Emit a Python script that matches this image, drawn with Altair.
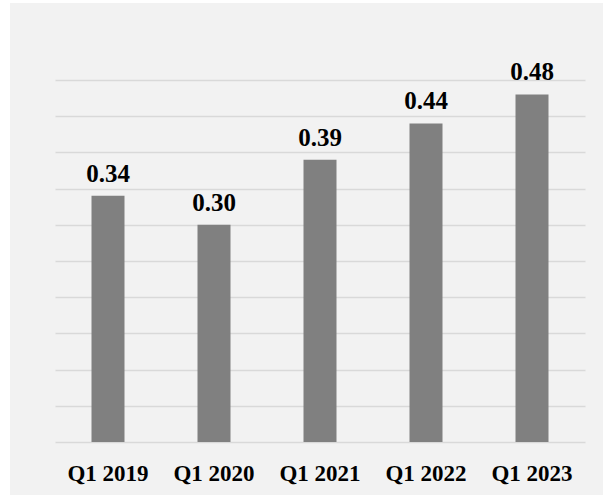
import altair as alt
import pandas as pd

categories = ["Q1 2019", "Q1 2020", "Q1 2021", "Q1 2022", "Q1 2023"]
values = [0.34, 0.30, 0.39, 0.44, 0.48]
labels = ["0.34", "0.30", "0.39", "0.44", "0.48"]
grid_values = [0.0, 0.05, 0.1, 0.15, 0.2, 0.25, 0.3, 0.35, 0.4, 0.45, 0.5]

df = pd.DataFrame({"cat": categories, "val": values, "lab": labels})

W, H = 530, 362
FONT = "Liberation Serif"

x = alt.X("cat:N", sort=categories, title=None,
          scale=alt.Scale(paddingInner=0, paddingOuter=0),
          axis=alt.Axis(labelAngle=0, labelFont=FONT, labelFontSize=23,
                        labelFontWeight="bold", labelColor="#000000",
                        labelPadding=20, domain=False, ticks=False, grid=False))
y = alt.Y("val:Q", title=None,
          scale=alt.Scale(domain=[0, 0.5], nice=False),
          axis=alt.Axis(values=grid_values, labels=False,
                        ticks=False, domain=False, grid=True,
                        gridColor="#d9d9d9", gridWidth=1.3))

# white page margins at left and top (the rest of the canvas is the light gray background)
left_strip = alt.Chart(df).mark_rect(color="#ffffff").encode(
    x=alt.value(-55), x2=alt.value(-45), y=alt.value(-80), y2=alt.value(H + 53)
)
top_strip = alt.Chart(df).mark_rect(color="#ffffff").encode(
    x=alt.value(-55), x2=alt.value(W + 18), y=alt.value(-80), y2=alt.value(-77)
)

bars = alt.Chart(df).mark_bar(size=33, color="#808080").encode(x=x, y=y)

text = alt.Chart(df).mark_text(
    baseline="bottom", dy=-9, font=FONT, fontSize=25, fontWeight="bold", color="#000000"
).encode(x=x, y=y, text="lab:N")

chart = alt.layer(left_strip, top_strip, bars, text).properties(
    width=W, height=H,
    autosize=alt.AutoSizeParams(type="none"),
    padding={"left": 55, "top": 80, "right": 18, "bottom": 53},
    background="#f2f2f2",
).configure_view(stroke=None)

chart.save("out.html", embed_options={"renderer": "svg", "actions": False})
